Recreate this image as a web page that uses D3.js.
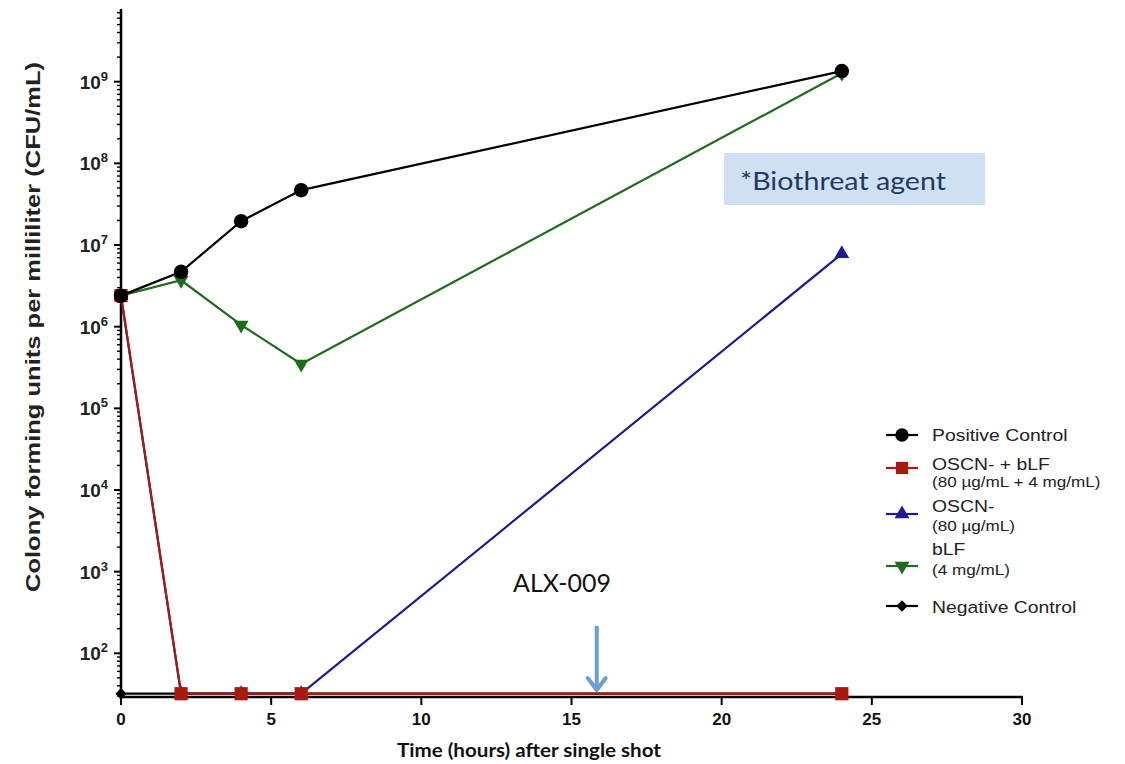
<!DOCTYPE html>
<html><head><meta charset="utf-8">
<script src="https://cdn.jsdelivr.net/npm/d3@7"></script>
<style>body{margin:0;background:#fff}svg{display:block}</style>
</head><body>
<script>
// ---- data ----
const hours = [0, 2, 4, 6, 24];
const positiveControl = [2.4e6, 4.7e6, 1.96e7, 4.7e7, 1.35e9];
const oscnBlf = [2.4e6, 32, 32, 32, 32];
const oscn = [2.4e6, 32, 32, 32, 7.8e6];
const blf = [2.4e6, 3.7e6, 1.05e6, 3.5e5, 1.27e9];
const negativeControl = [32, 32, 32, 32, 32];
const xTicks = [0, 5, 10, 15, 20, 25, 30];
const yExponents = [2, 3, 4, 5, 6, 7, 8, 9];
const arrowTime = 15.84;

const W = 1125, H = 764;
const svg = d3.select("body").append("svg").attr("width", W).attr("height", H);

const x = d3.scaleLinear().domain([0, 30]).range([121, 1022]);
const y = d3.scaleLog().domain([Math.pow(10, 1.465), Math.pow(10, 9.878)]).range([697, 10]);

// ---- axes ----
const axisG = svg.append("g");
axisG.append("line").attr("x1", 121).attr("x2", 121).attr("y1", 9).attr("y2", 699)
  .attr("stroke", "#000").attr("stroke-width", 2.5);
const minor = [];
for (let e = 1; e <= 9; e++) for (let m = 1; m <= 9; m++) {
  const v = m * Math.pow(10, e);
  if (v >= y.domain()[0] && v <= y.domain()[1]) minor.push({v, major: m === 1});
}
axisG.selectAll("line.yt").data(minor).enter().append("line")
  .attr("x1", d => d.major ? 114 : 117).attr("x2", 121)
  .attr("y1", d => y(d.v)).attr("y2", d => y(d.v))
  .attr("stroke", "#000").attr("stroke-width", d => d.major ? 2 : 1.4);
const yl = axisG.selectAll("text.yl").data(yExponents).enter().append("text")
  .attr("x", 108).attr("y", d => y(Math.pow(10, d)) + 7)
  .attr("text-anchor", "end")
  .attr("font-family", "Liberation Sans, Arial, sans-serif").attr("font-weight", "bold")
  .attr("font-size", 19).attr("fill", "#222");
yl.append("tspan").text("10");
yl.append("tspan").attr("dy", -8).attr("font-size", 13).text(d => d);

axisG.append("line").attr("x1", 120).attr("x2", 1023).attr("y1", 697).attr("y2", 697)
  .attr("stroke", "#000").attr("stroke-width", 2.5);
axisG.selectAll("line.xt").data(xTicks).enter().append("line")
  .attr("x1", d => x(d)).attr("x2", d => x(d)).attr("y1", 697).attr("y2", 705)
  .attr("stroke", "#000").attr("stroke-width", 2);
axisG.selectAll("text.xl").data(xTicks).enter().append("text")
  .attr("x", d => x(d)).attr("y", 725).attr("text-anchor", "middle")
  .attr("font-family", "Liberation Sans Narrow, Liberation Sans, Arial, sans-serif")
  .attr("font-weight", "bold").attr("font-size", 17).attr("fill", "#111")
  .text(d => d);

// titles
svg.append("text").attr("x", 529).attr("y", 757).attr("text-anchor", "middle")
  .attr("font-family", "Lato, Open Sans, sans-serif").attr("font-weight", "bold")
  .attr("font-size", 18).attr("fill", "#111")
  .attr("textLength", 264).attr("lengthAdjust", "spacingAndGlyphs")
  .text("Time (hours) after single shot");
svg.append("text").attr("transform", "translate(40,327) rotate(-90)")
  .attr("text-anchor", "middle")
  .attr("font-family", "Liberation Sans, Arial, sans-serif").attr("font-weight", "bold")
  .attr("font-size", 20).attr("fill", "#222")
  .attr("textLength", 530).attr("lengthAdjust", "spacingAndGlyphs")
  .text("Colony forming units per milliliter (CFU/mL)");

// ---- series ----
const series = [
  {name: "neg", vals: negativeControl, color: "#000", sym: d3.symbolSquare, size: 64, rot: 45},
  {name: "oscn", vals: oscn, color: "#1c1c8f", sym: d3.symbolTriangle, size: 95, rot: 0},
  {name: "blf", vals: blf, color: "#1f6b1f", sym: d3.symbolTriangle, size: 95, rot: 180},
  {name: "red", vals: oscnBlf, color: "#a81a10", sym: d3.symbolSquare, size: 175, rot: 0},
  {name: "pos", vals: positiveControl, color: "#000", sym: d3.symbolCircle, size: 165, rot: 0}
];
const line = d3.line().x(d => x(d.t)).y(d => d.yy);
series.forEach(s => {
  const pts = hours.map((t, i) => ({t, yy: y(s.vals[i])}));
  const g = svg.append("g");
  g.append("path").datum(pts).attr("d", line).attr("fill", "none")
    .attr("stroke", s.color).attr("stroke-width", 2.2);
  g.selectAll("path.m").data(pts).enter().append("path")
    .attr("d", d3.symbol().type(s.sym).size(s.size))
    .attr("transform", d => `translate(${x(d.t)},${d.yy}) rotate(${s.rot})`)
    .attr("fill", s.color);
});

// ---- annotations ----
svg.append("rect").attr("x", 724).attr("y", 153).attr("width", 261).attr("height", 52)
  .attr("fill", "#cfe0f3");
svg.append("text").attr("x", 740).attr("y", 190)
  .attr("font-family", "Lato, Open Sans, sans-serif").attr("font-size", 25).attr("fill", "#1f3a63")
  .attr("textLength", 206).attr("lengthAdjust", "spacingAndGlyphs")
  .text("*Biothreat agent");
svg.append("text").attr("x", 513).attr("y", 592)
  .attr("font-family", "Lato, Open Sans, sans-serif").attr("font-size", 25).attr("fill", "#111")
  .attr("textLength", 98).attr("lengthAdjust", "spacingAndGlyphs")
  .text("ALX-009");
const ax = x(arrowTime);
svg.append("line").attr("x1", ax).attr("x2", ax).attr("y1", 626).attr("y2", 690)
  .attr("stroke", "#6a9fcf").attr("stroke-width", 4);
svg.append("path").attr("d", `M${ax - 9},${678} L${ax},${690} L${ax + 9},${678}`)
  .attr("fill", "none").attr("stroke", "#6a9fcf").attr("stroke-width", 4)
  .attr("stroke-linejoin", "round").attr("stroke-linecap", "round");

// ---- legend ----
const legend = [
  {sym: d3.symbolCircle, size: 140, rot: 0, color: "#000", y: 435, lines: [["Positive Control", 435]]},
  {sym: d3.symbolSquare, size: 150, rot: 0, color: "#a81a10", y: 468, lines: [["OSCN- + bLF", 464], ["(80 \u00b5g/mL + 4 mg/mL)", 482]]},
  {sym: d3.symbolTriangle, size: 95, rot: 0, color: "#1c1c8f", y: 514, lines: [["OSCN-", 506], ["(80 \u00b5g/mL)", 526]]},
  {sym: d3.symbolTriangle, size: 95, rot: 180, color: "#1f6b1f", y: 566, lines: [["bLF", 549], ["(4 mg/mL)", 570]]},
  {sym: d3.symbolSquare, size: 64, rot: 45, color: "#000", y: 606, lines: [["Negative Control", 607]]}
];
const lg = svg.append("g");
legend.forEach(l => {
  lg.append("line").attr("x1", 886).attr("x2", 918).attr("y1", l.y).attr("y2", l.y)
    .attr("stroke", l.color).attr("stroke-width", 2.2);
  lg.append("path").attr("d", d3.symbol().type(l.sym).size(l.size))
    .attr("transform", `translate(902,${l.y}) rotate(${l.rot})`).attr("fill", l.color);
  l.lines.forEach((t, i) => {
    lg.append("text").attr("transform", `translate(932,${t[1]}) scale(1.14,1)`)
      .attr("dy", "0.35em")
      .attr("font-family", "Liberation Sans, Arial, sans-serif")
      .attr("font-size", i === 0 ? 17 : 15).attr("fill", "#222").text(t[0]);
  });
});
</script>
</body></html>
